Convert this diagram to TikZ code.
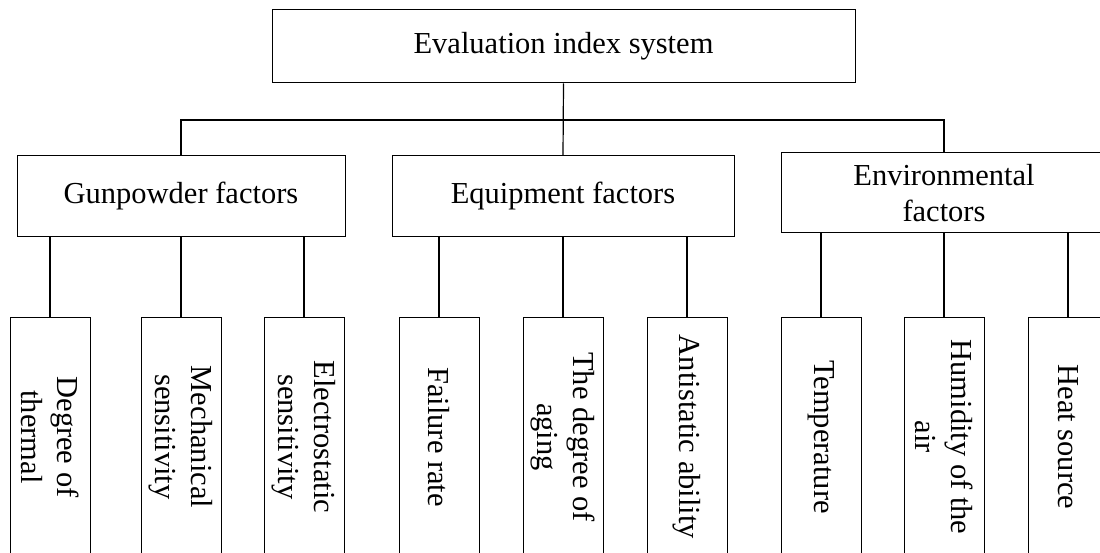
\documentclass[tikz,border=0pt]{standalone}
\usepackage{fontspec}
\setmainfont{Liberation Serif}
\usepackage{tikz}
\usetikzlibrary{positioning, calc}

\tikzset{
    box/.style={draw, line width=1pt, inner sep=0pt, align=center,
        font=\fontsize{30.5}{35.5}\selectfont},
    topbox/.style={box, minimum width=583pt, minimum height=73pt},
    groupbox/.style={box, minimum height=81pt},
    leafbox/.style={box, rotate=-90, minimum width=240pt, minimum height=80pt},
    link/.style={draw, line width=1.2pt}
}

\begin{document}
\begin{tikzpicture}[x=1pt, y=-1pt]
    \useasboundingbox (0,0) rectangle (1100,553);
    \clip (0,0) rectangle (1100,553);

    % top level
    \node[topbox] (top) at (563.5,46.5) {Evaluation index system};

    % factor groups
    \node[groupbox, minimum width=328pt] (gun) at (181,196.5) {Gunpowder factors};
    \node[groupbox, minimum width=342pt] (equip) at (563,196.5) {Equipment factors};
    \node[groupbox, minimum width=326pt, minimum height=80pt] (env) at (944,193) {Environmental\\factors};

    \coordinate (bar) at (563,120);
    \draw[link] (gun.north) |- (bar) -| (env.north);
    \draw[link] (top.south) -- (equip.north);

    % indices
    \node[leafbox] (thermal) at (50,437) {Degree of\\thermal};
    \node[leafbox] (mech) at (181,437) {Mechanical\\sensitivity};
    \node[leafbox] (elec) at (304,437) {Electrostatic\\sensitivity};
    \node[leafbox] (fail) at (439,437) {Failure rate};
    \node[leafbox] (aging) at (563,437) {The degree of\\aging};
    \node[leafbox] (anti) at (687,437) {Antistatic ability};
    \node[leafbox] (temp) at (821,437) {Temperature};
    \node[leafbox] (humid) at (944,437) {Humidity of the\\air};
    \node[leafbox] (heat) at (1068,437) {Heat source};

    \foreach \leaf in {thermal, mech, elec}
        \draw[link] (gun.south -| \leaf.center) -- (\leaf.west);
    \foreach \leaf in {fail, aging, anti}
        \draw[link] (equip.south -| \leaf.center) -- (\leaf.west);
    \foreach \leaf in {temp, humid, heat}
        \draw[link] (env.south -| \leaf.center) -- (\leaf.west);
\end{tikzpicture}
\end{document}
